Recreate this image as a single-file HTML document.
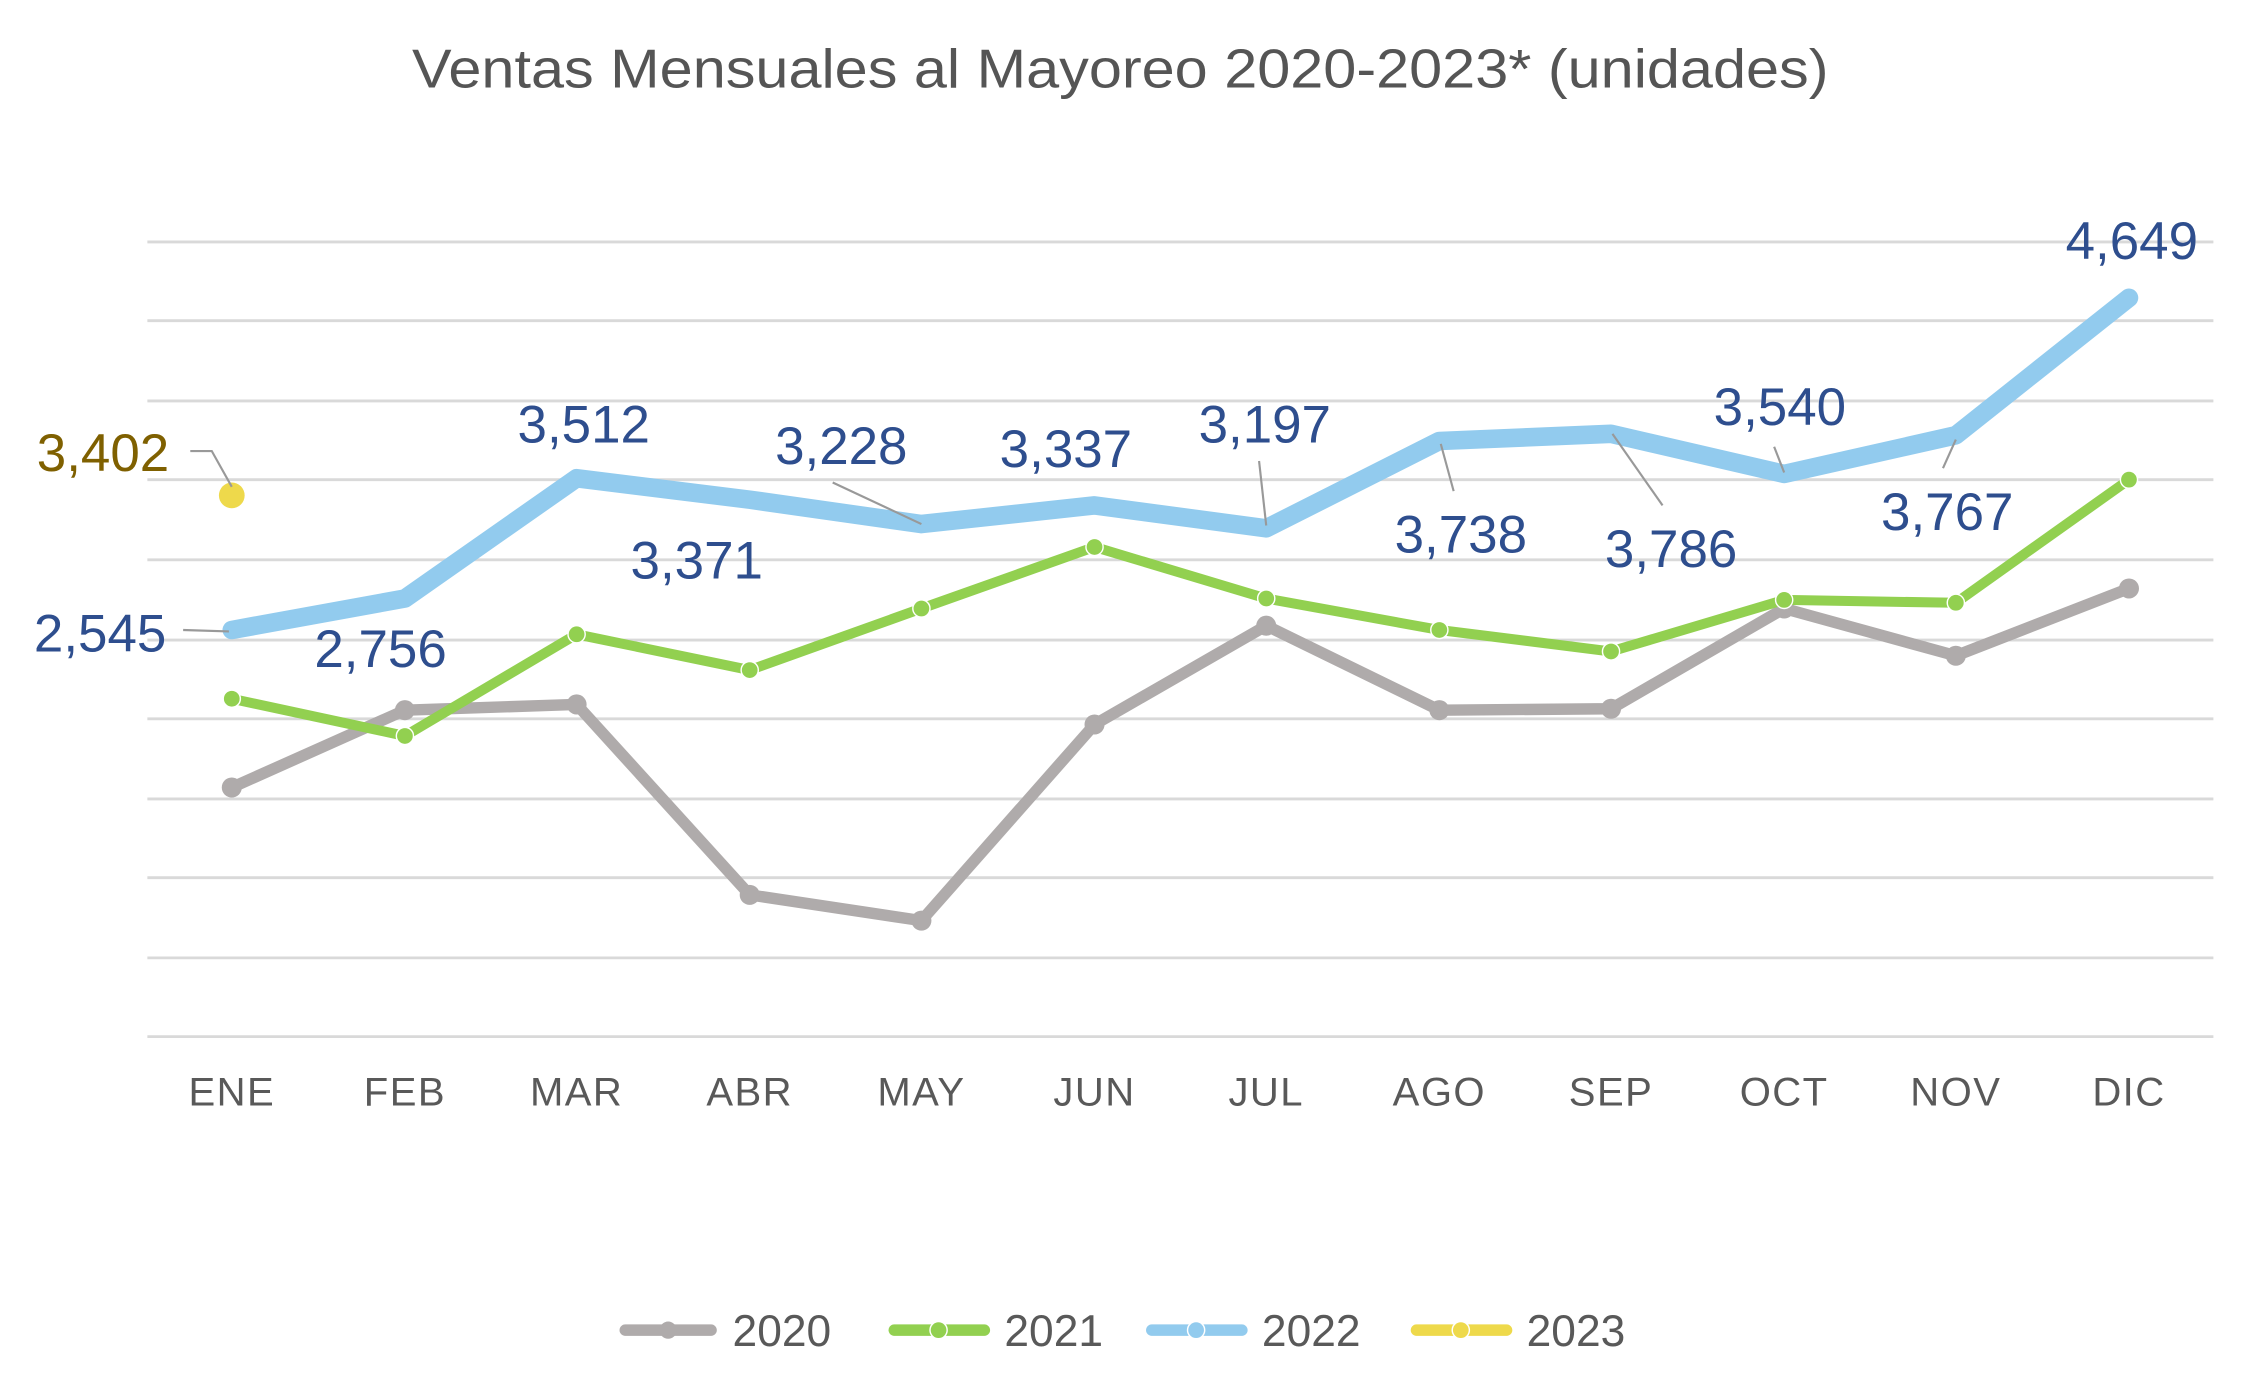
<!DOCTYPE html>
<html><head><meta charset="utf-8"><style>
html,body{margin:0;padding:0;background:#fff;}
svg{display:block;}
text{font-family:"Liberation Sans",sans-serif;}
</style></head><body>
<svg width="2242" height="1396" viewBox="0 0 1567 975" preserveAspectRatio="none" xmlns="http://www.w3.org/2000/svg">
<rect width="1567" height="975" fill="#fff"/>
<text x="783" y="61" text-anchor="middle" font-size="38" fill="#555" textLength="990" lengthAdjust="spacingAndGlyphs">Ventas Mensuales al Mayoreo 2020-2023* (unidades)</text>
<g stroke="#d9d9d9" stroke-width="2">
<line x1="103" x2="1547" y1="169" y2="169"/><line x1="103" x2="1547" y1="224" y2="224"/>
<line x1="103" x2="1547" y1="280" y2="280"/><line x1="103" x2="1547" y1="335" y2="335"/>
<line x1="103" x2="1547" y1="391" y2="391"/><line x1="103" x2="1547" y1="447" y2="447"/>
<line x1="103" x2="1547" y1="502" y2="502"/><line x1="103" x2="1547" y1="558" y2="558"/>
<line x1="103" x2="1547" y1="613" y2="613"/><line x1="103" x2="1547" y1="669" y2="669"/>
<line x1="103" x2="1547" y1="724" y2="724"/>
</g>
<g font-size="28" fill="#595959" text-anchor="middle" letter-spacing="1">
<text x="162" y="772">ENE</text><text x="283" y="772">FEB</text><text x="403" y="772">MAR</text>
<text x="524" y="772">ABR</text><text x="644" y="772">MAY</text><text x="765" y="772">JUN</text>
<text x="885" y="772">JUL</text><text x="1006" y="772">AGO</text><text x="1126" y="772">SEP</text>
<text x="1247" y="772">OCT</text><text x="1367" y="772">NOV</text><text x="1488" y="772">DIC</text>
</g>
<polyline fill="none" stroke="#afabab" stroke-width="8" stroke-linejoin="round" points="162,550 283,496 403,492 524,625 644,643 765,506 885,437 1006,496 1126,495 1247,425 1367,458 1488,411"/>
<g fill="#afabab"><circle cx="162" cy="550" r="7"/><circle cx="283" cy="496" r="7"/><circle cx="403" cy="492" r="7"/><circle cx="524" cy="625" r="7"/><circle cx="644" cy="643" r="7"/><circle cx="765" cy="506" r="7"/><circle cx="885" cy="437" r="7"/><circle cx="1006" cy="496" r="7"/><circle cx="1126" cy="495" r="7"/><circle cx="1247" cy="425" r="7"/><circle cx="1367" cy="458" r="7"/><circle cx="1488" cy="411" r="7"/></g>
<polyline fill="none" stroke="#92d050" stroke-width="7" stroke-linejoin="round" points="162,488 283,514 403,443 524,468 644,425 765,382 885,418 1006,440 1126,455 1247,419 1367,421 1488,335"/>
<g fill="#92d050" stroke="#fff" stroke-width="1"><circle cx="162" cy="488" r="6"/><circle cx="283" cy="514" r="6"/><circle cx="403" cy="443" r="6"/><circle cx="524" cy="468" r="6"/><circle cx="644" cy="425" r="6"/><circle cx="765" cy="382" r="6"/><circle cx="885" cy="418" r="6"/><circle cx="1006" cy="440" r="6"/><circle cx="1126" cy="455" r="6"/><circle cx="1247" cy="419" r="6"/><circle cx="1367" cy="421" r="6"/><circle cx="1488" cy="335" r="6"/></g>
<polyline fill="none" stroke="#92cbee" stroke-width="13" stroke-linejoin="round" stroke-linecap="round" points="162,440 283,418 403,334 524,349 644,366 765,353 885,369 1006,308 1126,303 1247,331 1367,304 1488,208"/>
<circle cx="162" cy="346" r="9" fill="#eed94b"/>
<g stroke="#999" stroke-width="1.5" fill="none">
<polyline points="133,315 148,315 162,340"/>
<polyline points="128,440 160,441"/>
<line x1="582" y1="337" x2="644" y2="366"/>
<line x1="880" y1="322" x2="885" y2="367"/>
<line x1="1007" y1="310" x2="1016" y2="343"/>
<line x1="1127" y1="303" x2="1162" y2="353"/>
<line x1="1240" y1="312" x2="1247" y2="330"/>
<line x1="1367" y1="307" x2="1358" y2="327"/>
</g>
<text x="72" y="329" font-size="37" fill="#7f6000" text-anchor="middle">3,402</text>
<g font-size="37" fill="#2e4e8e" text-anchor="middle">
<text x="70" y="455">2,545</text>
<text x="266" y="466">2,756</text>
<text x="408" y="309">3,512</text>
<text x="487" y="404">3,371</text>
<text x="588" y="324">3,228</text>
<text x="745" y="326">3,337</text>
<text x="884" y="309">3,197</text>
<text x="1021" y="386">3,738</text>
<text x="1168" y="396">3,786</text>
<text x="1244" y="297">3,540</text>
<text x="1361" y="370">3,767</text>
<text x="1490" y="181">4,649</text>
</g>
<g stroke-linecap="round">
<line x1="437" y1="929" x2="497" y2="929" stroke="#afabab" stroke-width="8"/><circle cx="467" cy="929" r="6" fill="#afabab"/>
<line x1="625" y1="929" x2="688" y2="929" stroke="#92d050" stroke-width="8"/><circle cx="656" cy="929" r="6" fill="#92d050" stroke="#fff"/>
<line x1="805" y1="929" x2="868" y2="929" stroke="#92cbee" stroke-width="8"/><circle cx="836" cy="929" r="6" fill="#92cbee" stroke="#fff"/>
<line x1="990" y1="929" x2="1053" y2="929" stroke="#eed94b" stroke-width="8"/><circle cx="1021" cy="929" r="6" fill="#eed94b" stroke="#fff"/>
</g>
<g font-size="31" fill="#595959">
<text x="512" y="940">2020</text><text x="702" y="940">2021</text><text x="882" y="940">2022</text><text x="1067" y="940">2023</text>
</g>
</svg>
</body></html>
